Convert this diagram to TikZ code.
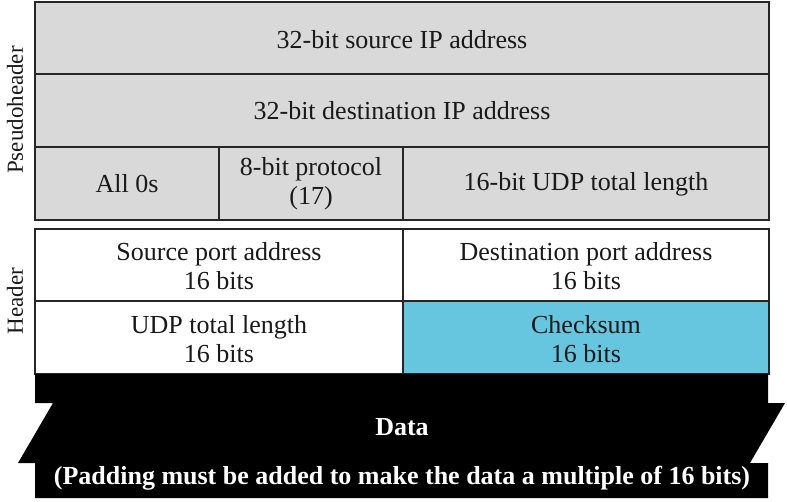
\documentclass[tikz,border=0pt]{standalone}
\usepackage{fontspec}
\setmainfont{Liberation Serif}
\usetikzlibrary{positioning}
\definecolor{fieldgray}{HTML}{D9D9D9}
\definecolor{checkblue}{HTML}{66C5DF}
\tikzset{
    field/.style={draw=black!85, line width=1.5pt, fill=fieldgray},
    hfield/.style={draw=black!85, line width=1.5pt, fill=white},
    lbl/.style={font=\fontsize{26}{29}\selectfont, align=center, text=black!90},
    datalbl/.style={font=\fontsize{26}{29}\selectfont\bfseries, text=white},
    sidelbl/.style={font=\fontsize{23}{29}\selectfont, rotate=90, text=black!90},
}
\begin{document}
\begin{tikzpicture}[x=1pt,y=-1pt]
    \useasboundingbox (0,0) rectangle (787,501);
    \pgfmathsetmacro{\colA}{219}
    \pgfmathsetmacro{\colB}{403}
    % pseudoheader
    \path[field] (35,2) rectangle (769,74);
    \path[field] (35,74) rectangle (769,147);
    \path[field] (35,147) rectangle (\colA,220);
    \path[field] (\colA,147) rectangle (\colB,220);
    \path[field] (\colB,147) rectangle (769,220);
    \node[lbl] (srcip) at (402,40) {32-bit source IP address};
    \node[lbl] (dstip) at (402,111) {32-bit destination IP address};
    \node[lbl] (zeros) at (127,184) {All 0s};
    \node[lbl] (proto) at (311,184) {8-bit protocol\\(17)};
    \node[lbl] (udplen) at (586,184) {16-bit UDP total length};
    % header
    \path[hfield] (35,229) rectangle (\colB,301);
    \path[hfield] (\colB,229) rectangle (769,301);
    \path[hfield] (35,301) rectangle (\colB,374);
    \path[hfield, fill=checkblue] (\colB,301) rectangle (769,374);
    \node[lbl] (srcport) at (219,266) {Source port address\\16 bits};
    \node[lbl] (dstport) at (586,266) {Destination port address\\16 bits};
    \node[lbl] (totlen) at (219,339) {UDP total length\\16 bits};
    \node[lbl] (chksum) at (586,339) {Checksum\\16 bits};
    % data
    \fill[black] (35,374) -- (768,374) -- (768,403) -- (785,403) -- (750,463) -- (768,463)
        -- (768,498) -- (35,498) -- (35,463) -- (18,463) -- (53,403) -- (35,403) -- cycle;
    \node[datalbl] (data) at (402,427) {Data};
    \node[datalbl] (padding) at (402,478) {(Padding must be added to make the data a multiple of 16 bits)};
    % side labels
    \node[sidelbl] (pseudo) at (15,110) {Pseudoheader};
    \node[sidelbl] (hdr) at (15,301) {Header};
\end{tikzpicture}
\end{document}
